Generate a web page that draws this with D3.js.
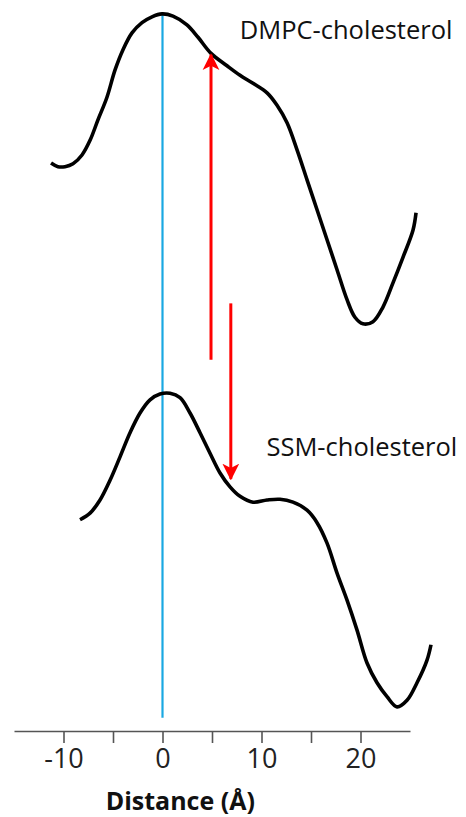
<!DOCTYPE html>
<html>
<head>
<meta charset="utf-8">
<script src="https://cdn.jsdelivr.net/npm/d3@7"></script>
<style>
  html, body { margin: 0; padding: 0; background: #fff; }
  svg { display: block; }
</style>
</head>
<body>
<div id="chart"></div>
<script>
const width = 466;
const height = 817;

// distance (Å) and relative density (arbitrary, offset)
const dmpcDist = [-11.26, -10.56, -9.85, -9.04, -8.13, -7.32, -6.52, -5.61, -4.80, -3.99, -3.08, -2.07, -1.06, -0.05, 1.06, 2.47, 3.59, 4.90, 6.52, 7.83, 9.14, 10.56, 11.57, 12.58, 13.59, 14.60, 15.61, 16.62, 17.63, 18.64, 19.44, 20.25, 21.26, 22.27, 23.28, 24.29, 25.30, 25.61];
const dmpcDens = [7.77, 7.72, 7.72, 7.76, 7.88, 8.08, 8.36, 8.67, 9.04, 9.32, 9.55, 9.69, 9.77, 9.81, 9.78, 9.66, 9.49, 9.27, 9.10, 8.97, 8.86, 8.73, 8.56, 8.32, 7.95, 7.54, 7.13, 6.72, 6.31, 5.90, 5.66, 5.57, 5.60, 5.80, 6.13, 6.48, 6.85, 7.09];

const ssmDist = [-8.33, -7.32, -6.31, -5.30, -4.29, -3.28, -2.27, -1.26, -0.25, 0.76, 1.77, 2.78, 3.79, 4.80, 5.81, 6.82, 7.83, 9.14, 10.56, 11.87, 13.18, 14.60, 15.61, 16.62, 17.63, 18.64, 19.65, 20.66, 21.67, 22.68, 23.69, 24.70, 25.71, 26.72, 27.12];
const ssmDens = [2.89, 2.98, 3.16, 3.43, 3.75, 4.08, 4.35, 4.53, 4.61, 4.62, 4.56, 4.35, 4.08, 3.80, 3.53, 3.34, 3.21, 3.13, 3.16, 3.17, 3.13, 3.02, 2.85, 2.57, 2.16, 1.79, 1.38, 0.93, 0.66, 0.47, 0.33, 0.42, 0.66, 0.97, 1.18];

const curveLabels = ['DMPC-cholesterol', 'SSM-cholesterol'];
const labelPos = [[7.8, 9.47], [10.5, 3.76]];

// shift arrows: [x, from, to]
const arrows = [[4.9, 5.08, 9.25], [6.9, 5.85, 3.45]];

const tickValues = [-10, -5, 0, 5, 10, 15, 20];
const tickLabels = [-10, 0, 10, 20];

const x = d3.scaleLinear().domain([-15, 25]).range([14, 410]);
const y = d3.scaleLinear().domain([0, 10]).range([731, 0]);

const svg = d3.select('#chart')
  .append('svg')
  .attr('width', width)
  .attr('height', height);

const line = d3.line()
  .x(d => x(d[0]))
  .y(d => y(d[1]))
  .curve(d3.curveCatmullRom.alpha(0.5));

// reference line at 0
svg.append('line')
  .attr('x1', x(0)).attr('x2', x(0))
  .attr('y1', y(9.81)).attr('y2', y(0.18))
  .attr('stroke', '#1aa8e2')
  .attr('stroke-width', 2.2);

// profiles
[[dmpcDist, dmpcDens], [ssmDist, ssmDens]].forEach(([xs, ys]) => {
  svg.append('path')
    .datum(d3.zip(xs, ys))
    .attr('fill', 'none')
    .attr('stroke', '#000')
    .attr('stroke-width', 3.6)
    .attr('stroke-linejoin', 'round')
    .attr('stroke-linecap', 'butt')
    .attr('d', line);
});

// curve labels
svg.selectAll('.curve-label')
  .data(curveLabels)
  .enter()
  .append('text')
  .attr('x', (d, i) => x(labelPos[i][0]))
  .attr('y', (d, i) => y(labelPos[i][1]))
  .style('font', '25.5px "Open Sans", sans-serif')
  .attr('fill', '#111')
  .text(d => d);

// red arrows
const defs = svg.append('defs');
defs.append('marker')
  .attr('id', 'head')
  .attr('viewBox', '0 0 10 10')
  .attr('refX', 9)
  .attr('refY', 5)
  .attr('markerWidth', 5.6)
  .attr('markerHeight', 6)
  .attr('markerUnits', 'strokeWidth')
  .attr('orient', 'auto')
  .append('path')
  .attr('d', 'M0,0 L10,5 L0,10 L2.5,5 Z')
  .attr('fill', '#ff0000');

arrows.forEach(([ax, a0, a1]) => {
  svg.append('line')
    .attr('x1', x(ax)).attr('x2', x(ax))
    .attr('y1', y(a0)).attr('y2', y(a1))
    .attr('stroke', '#ff0000')
    .attr('stroke-width', 3)
    .attr('marker-end', 'url(#head)');
});

// x axis
const axis = svg.append('g')
  .attr('transform', `translate(0,${y(0)})`)
  .call(d3.axisBottom(x)
    .tickValues(tickValues)
    .tickSize(12)
    .tickSizeOuter(0)
    .tickFormat(d => tickLabels.includes(d) ? d : ''));

axis.select('.domain').attr('stroke', '#555').attr('stroke-width', 1.6);
axis.selectAll('.tick line').attr('stroke', '#555').attr('stroke-width', 1.6);
axis.selectAll('.tick text')
  .attr('dy', 0)
  .attr('y', 37)
  .attr('fill', '#222')
  .style('font', '27px "Open Sans", sans-serif');

svg.append('text')
  .attr('x', x(1.8))
  .attr('y', 810)
  .attr('text-anchor', 'middle')
  .style('font', 'bold 25px "Open Sans", sans-serif')
  .attr('fill', '#111')
  .text('Distance (Å)');
</script>
</body>
</html>
